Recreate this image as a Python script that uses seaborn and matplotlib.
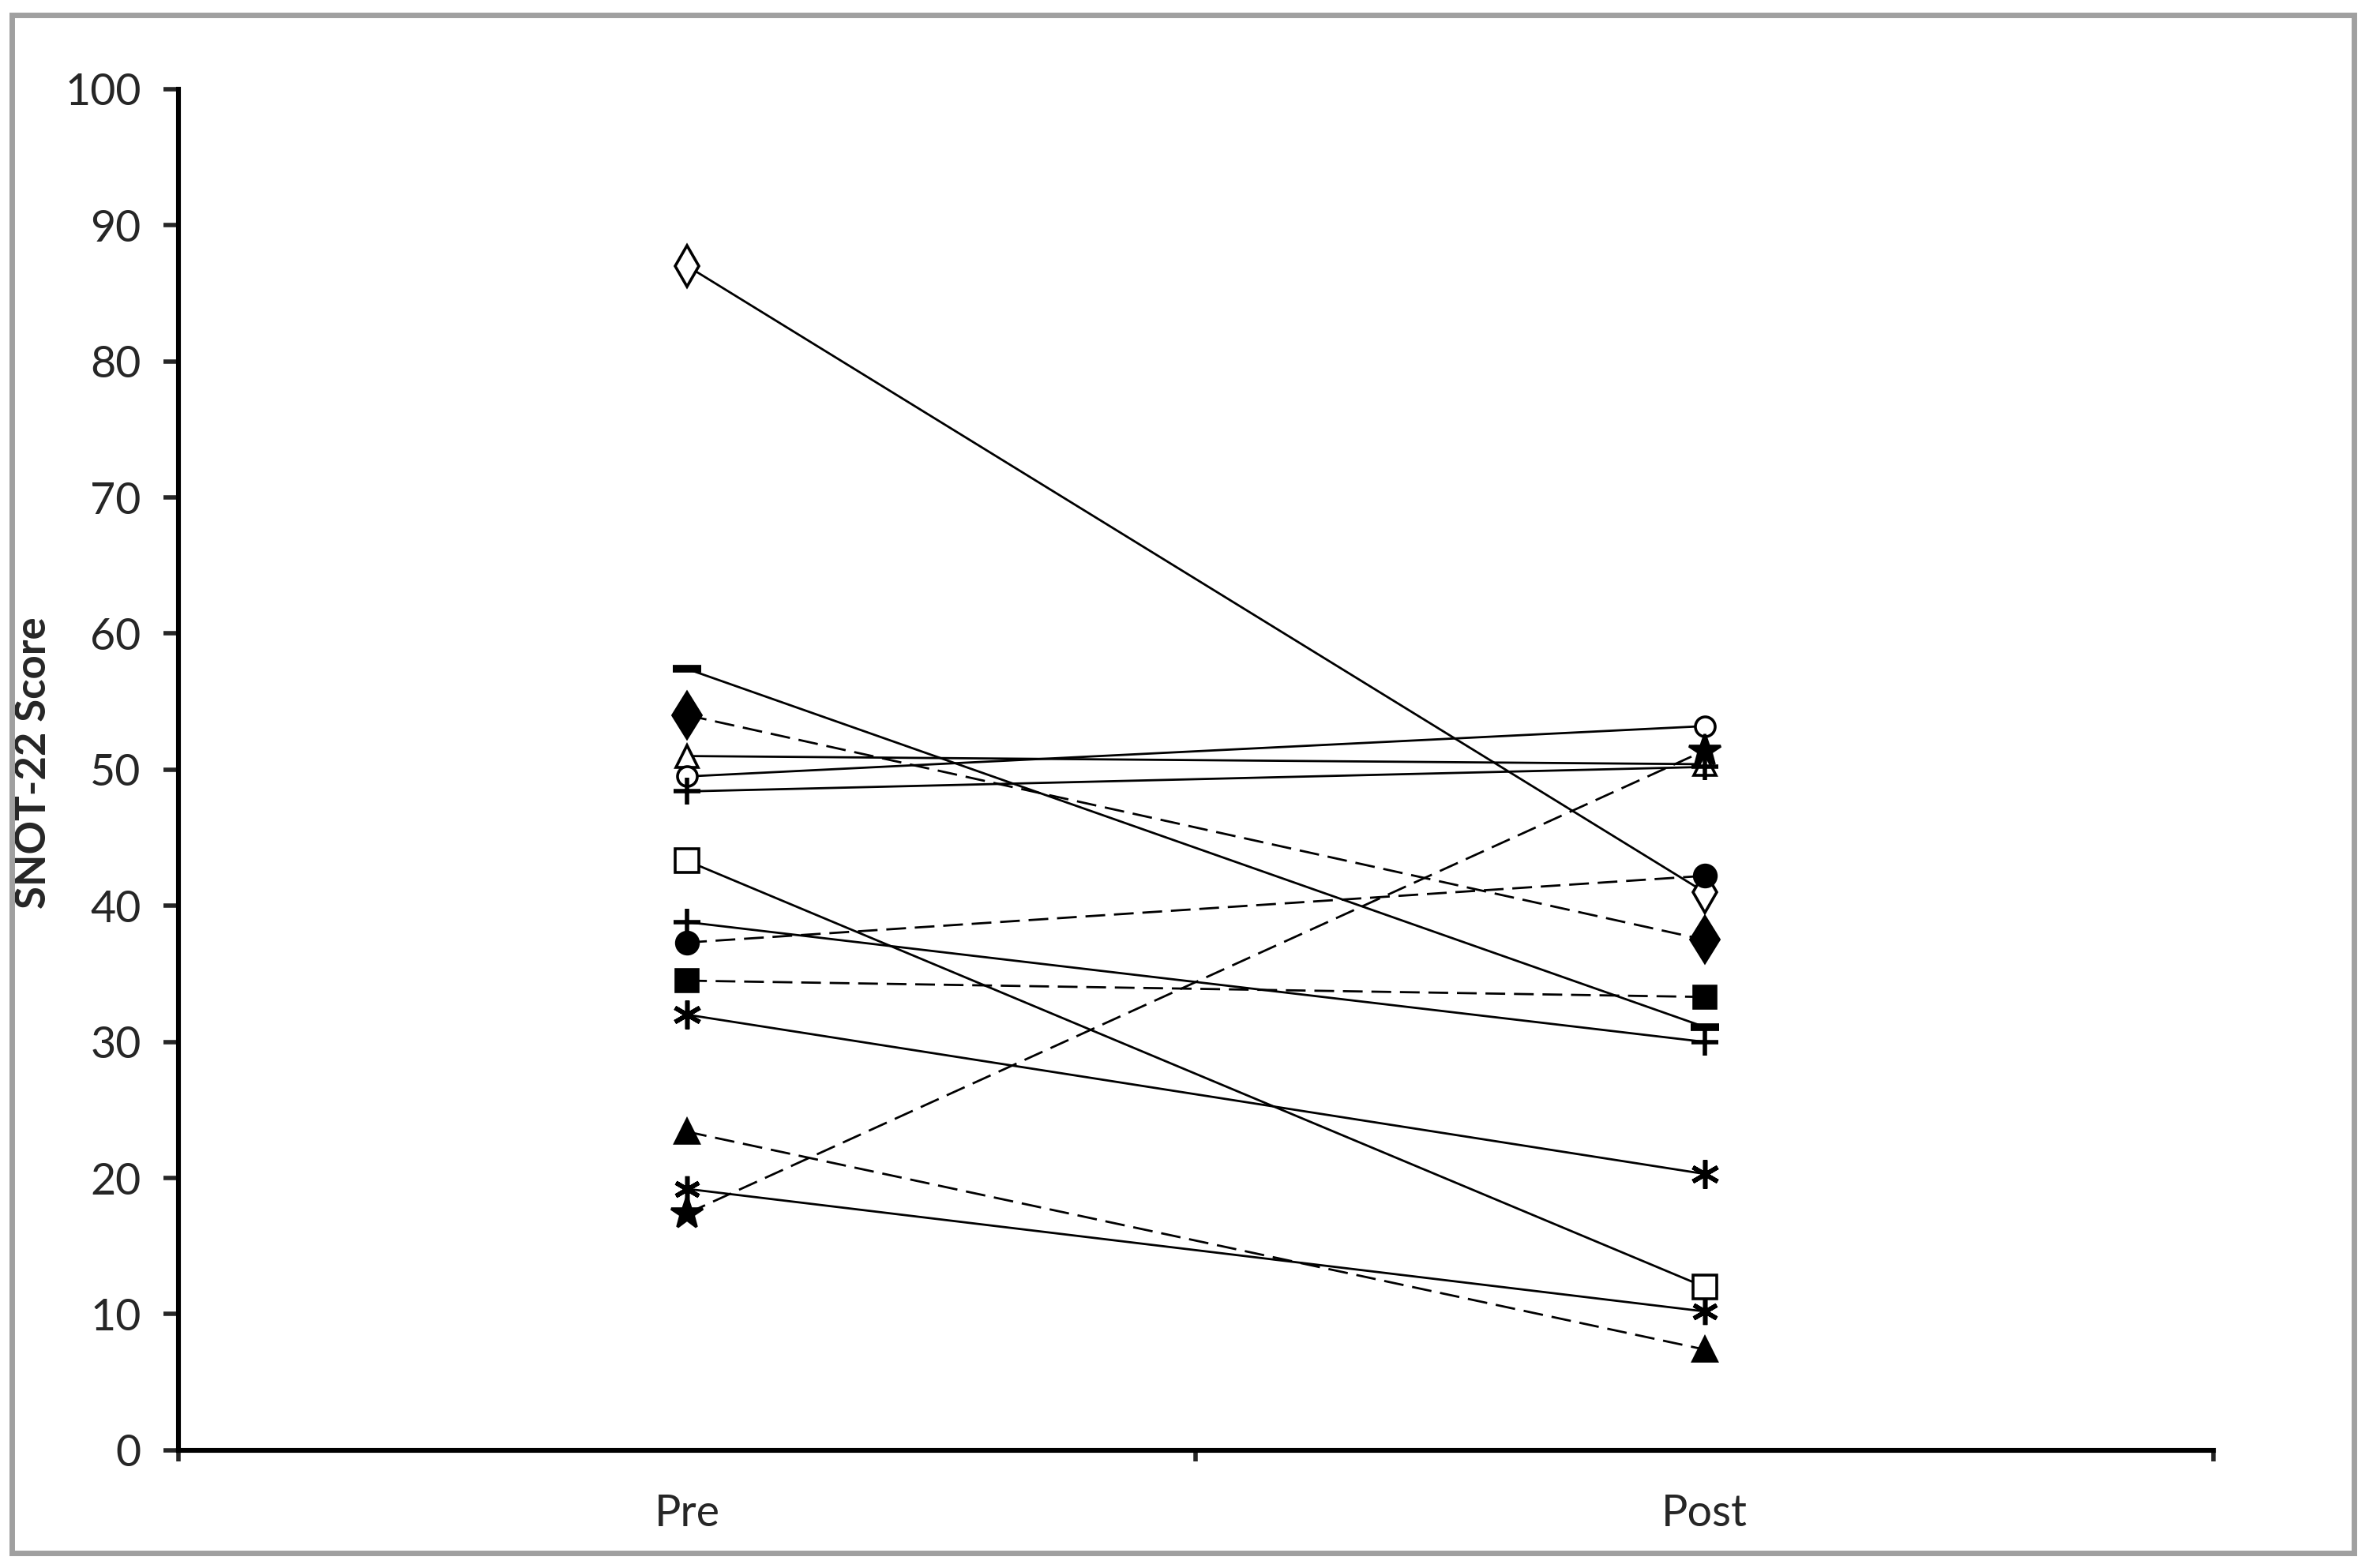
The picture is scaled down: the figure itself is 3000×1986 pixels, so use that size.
import matplotlib
matplotlib.use("Agg")
import matplotlib.pyplot as plt
from matplotlib.patches import Rectangle
import seaborn as sns
import pandas as pd

# ---- data ----
times = ["Pre", "Post"]
subjects = ["S1", "S2", "S3", "S4", "S5", "S6", "S7", "S8", "S9", "S10", "S11", "S12", "S13", "S14"]
pre_scores = [87.0, 57.4, 54.0, 51.0, 49.5, 48.4, 43.3, 38.8, 37.3, 34.5, 32.0, 23.4, 19.2, 17.4]
post_scores = [41.0, 31.1, 37.5, 50.4, 53.2, 50.2, 12.0, 30.0, 42.2, 33.3, 20.3, 7.4, 10.2, 51.4]
y_ticks = [0, 10, 20, 30, 40, 50, 60, 70, 80, 90, 100]
y_label = "SNOT-22 Score"

# style per subject: (marker, filled, markersize, linestyle)
styles = {
    "S1": ("d", False, 13, "-"),
    "S2": ("_", True, 13, "-"),
    "S3": ("d", True, 15, "--"),
    "S4": ("^", False, 10, "-"),
    "S5": ("o", False, 9, "-"),
    "S6": ("+", True, 12, "-"),
    "S7": ("s", False, 11, "-"),
    "S8": ("+", True, 12, "-"),
    "S9": ("o", True, 10, "--"),
    "S10": ("s", True, 10, "--"),
    "S11": ((6, 2, 0), True, 13, "-"),
    "S12": ("^", True, 11, "--"),
    "S13": ((6, 2, 0), True, 12, "-"),
    "S14": ("*", True, 15, "--"),
}

rows = []
for s, a, b in zip(subjects, pre_scores, post_scores):
    rows.append({"subject": s, "time": times[0], "score": a})
    rows.append({"subject": s, "time": times[1], "score": b})
df = pd.DataFrame(rows)
df["x"] = df["time"].map({t: i for i, t in enumerate(times)})

sns.set_style("ticks")
plt.rcParams["font.family"] = ["Lato", "DejaVu Sans"]

fig = plt.figure(figsize=(15, 9.93), dpi=200)
ax = fig.add_axes([0.0753, 0.0751, 0.9343 - 0.0753, 0.9432 - 0.0751])

for s in subjects:
    mk, filled, ms, ls = styles[s]
    sub = df[df["subject"] == s]
    mew = 3.5 if mk == "_" else (2.0 if mk in ("+",) or isinstance(mk, tuple) else 1.3)
    sns.lineplot(data=sub, x="x", y="score", ax=ax, color="black",
                 marker=mk, markersize=ms,
                 markerfacecolor=("black" if filled else "white"),
                 markeredgecolor="black", markeredgewidth=mew,
                 linestyle=ls, linewidth=1.0, sort=False, legend=False,
                 errorbar=None)
    if ls == "--":
        ax.lines[-1].set_dashes((9, 4))

ax.set_xlim(-0.5, 1.5)
ax.set_ylim(0, 100)
ax.set_yticks(y_ticks)
ax.set_yticklabels([str(v) for v in y_ticks], fontsize=20)
ax.set_xticks([-0.5, 0.5, 1.5])
ax.set_xticklabels(["", "", ""])
ax.set_xticks([0, 1], minor=True)
ax.set_xticklabels(times, minor=True, fontsize=20)
ax.tick_params(axis="x", which="major", length=5, width=2, direction="out")
ax.tick_params(axis="x", which="minor", length=0, pad=20)
ax.tick_params(axis="y", length=7, width=2, direction="out", pad=10)
ax.set_xlabel("")
ax.set_ylabel(y_label, fontsize=19, fontweight="bold")
ax.yaxis.set_label_coords(-0.0616, 0.505)
for sp in ["top", "right"]:
    ax.spines[sp].set_visible(False)
for sp in ["left", "bottom"]:
    ax.spines[sp].set_linewidth(2.2)
    ax.spines[sp].set_color("black")
ax.grid(False)

fig.patches.append(Rectangle((0.0051, 0.0096), 0.9936 - 0.0051, 0.9904 - 0.0096,
                             transform=fig.transFigure, fill=False,
                             edgecolor="#a0a0a0", linewidth=2.5, zorder=0))

fig.savefig("out.png", dpi=200, facecolor="white")
